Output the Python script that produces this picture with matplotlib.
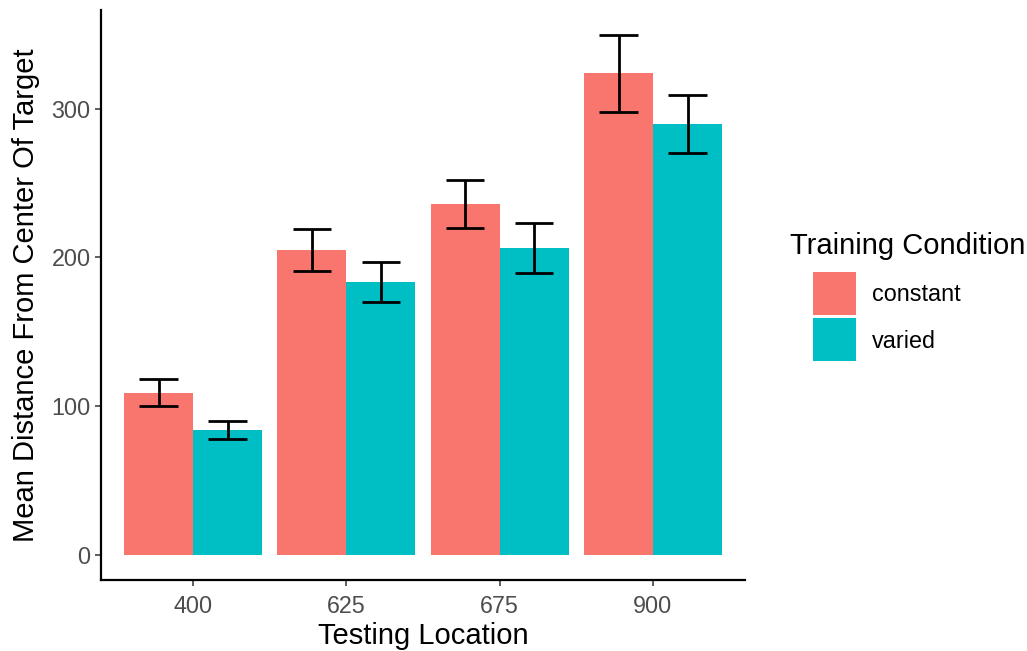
import matplotlib
matplotlib.use("Agg")
import matplotlib.pyplot as plt
import numpy as np
from matplotlib.patches import Rectangle

locations = ["400", "625", "675", "900"]
conditions = ["constant", "varied"]
colors = ["#F8766D", "#00BFC4"]
means_constant = [108.9, 205.0, 235.9, 324.0]
means_varied = [84.0, 183.5, 206.4, 289.7]
err_constant = [9.0, 14.1, 16.0, 25.8]
err_varied = [6.2, 13.5, 17.0, 19.7]

plt.rcParams['font.family'] = ['Liberation Sans', 'DejaVu Sans']

W, H = 1027, 651
fig = plt.figure(figsize=(W / 100, H / 100), dpi=100)
ax = fig.add_axes([101/W, (H-580)/H, (745-101)/W, (580-10)/H])

x = np.arange(len(locations))
bw = 0.45
series = [(means_constant, err_constant), (means_varied, err_varied)]
for i, (m, e) in enumerate(series):
    pos = x + (i - 0.5) * bw
    ax.bar(pos, m, width=bw, color=colors[i], edgecolor='none', zorder=2)
    ax.errorbar(pos, m, yerr=e, fmt='none', ecolor='black', elinewidth=2.0,
                capsize=0, zorder=3)
    for p, mv, ev in zip(pos, m, e):
        for yv in (mv - ev, mv + ev):
            ax.plot([p - 0.125, p + 0.125], [yv, yv], color='black', lw=2.0,
                    solid_capstyle='butt', zorder=3)

ax.set_xlim(-0.6, 3.6)
ax.set_ylim(-17, 366.5)
ax.set_xticks(x)
ax.set_xticklabels(locations)
ax.set_yticks([0, 100, 200, 300])
ax.tick_params(axis='both', labelsize=16.8, labelcolor='#4D4D4D', color='#333333',
               length=4.5, width=1.1)
ax.tick_params(axis='x', pad=6)
ax.tick_params(axis='y', pad=3)
for s in ['top', 'right']:
    ax.spines[s].set_visible(False)
for s in ['left', 'bottom']:
    ax.spines[s].set_linewidth(1.6)
    ax.spines[s].set_color('black')

ax.set_xlabel("Testing Location", fontsize=21, labelpad=3)
ax.set_ylabel("Mean Distance From Center Of Target", fontsize=21, labelpad=8)

# legend (drawn by hand to match ggplot layout)
fig.text(790/W, 1 - 254/H, "Training Condition", fontsize=21, ha='left',
         va='baseline')
key_tops = [271.7, 317.7]
label_baselines = [301.5, 347.7]
for c, lab, kt, lb in zip(colors, conditions, key_tops, label_baselines):
    fig.add_artist(Rectangle((813/W, 1 - (kt + 43.3)/H), 43/W, 43.3/H,
                             transform=fig.transFigure, facecolor=c,
                             edgecolor='none'))
    fig.text(872/W, 1 - lb/H, lab, fontsize=16.8, ha='left', va='baseline')

fig.savefig("out.png", dpi=100)
